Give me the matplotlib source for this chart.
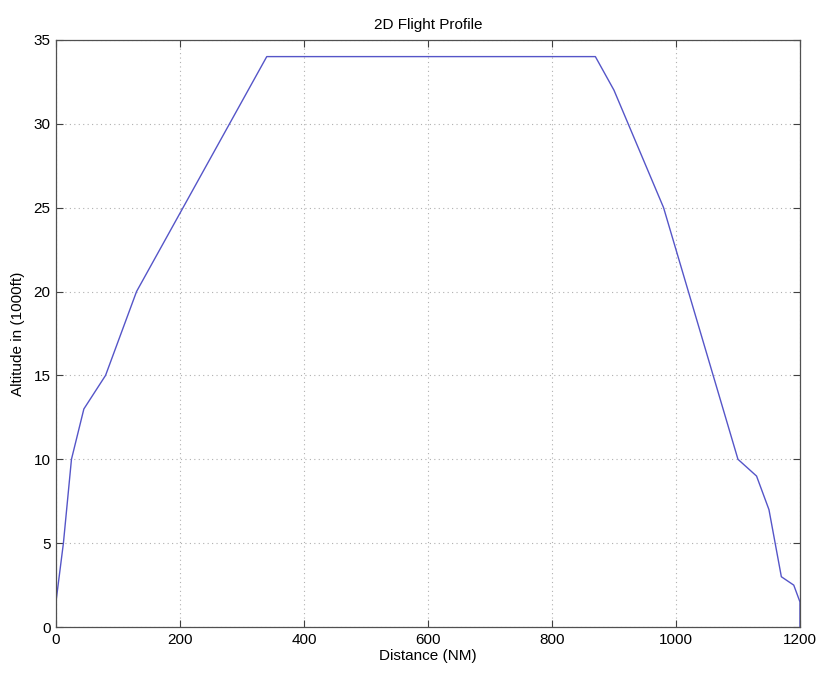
import matplotlib
matplotlib.use("Agg")
import matplotlib.pyplot as plt

# Flight profile: distance along route (NM) vs altitude (thousands of feet)
distance_nm = [0, 12, 25, 45, 80, 130, 340, 870, 900, 980, 1020, 1100, 1130, 1150, 1170, 1190, 1200, 1200]
altitude_kft = [1.5, 5, 10, 13, 15, 20, 34, 34, 32, 25, 20, 10, 9, 7, 3, 2.5, 1.5, 0]

x_ticks = [0, 200, 400, 600, 800, 1000, 1200]
y_ticks = [0, 5, 10, 15, 20, 25, 30, 35]

plt.rcParams['font.family'] = ['Liberation Sans', 'DejaVu Sans']

fig = plt.figure(figsize=(8.23, 6.75), dpi=100)
ax = fig.add_axes([0.068, 0.071, 0.904, 0.870])

ax.plot(distance_nm, altitude_kft, color='#5555c8', linewidth=1.0)

ax.set_xlim(0, 1200)
ax.set_ylim(0, 35)
ax.set_xticks(x_ticks)
ax.set_yticks(y_ticks)
ax.tick_params(direction='in', top=True, right=True, length=5, width=0.8,
               labelsize=11, color='#404040', pad=4)
ax.grid(True, linestyle=(0, (1, 3)), color='#b0b0b0', linewidth=0.8)
for s in ax.spines.values():
    s.set_color('#505050')
    s.set_linewidth(0.9)

ax.set_title('2D Flight Profile', fontsize=11, pad=8)
ax.set_xlabel('Distance (NM)', fontsize=11, labelpad=2)
ax.set_ylabel('Altitude in (1000ft)', fontsize=11, labelpad=6)

fig.savefig('out.png', dpi=100)
